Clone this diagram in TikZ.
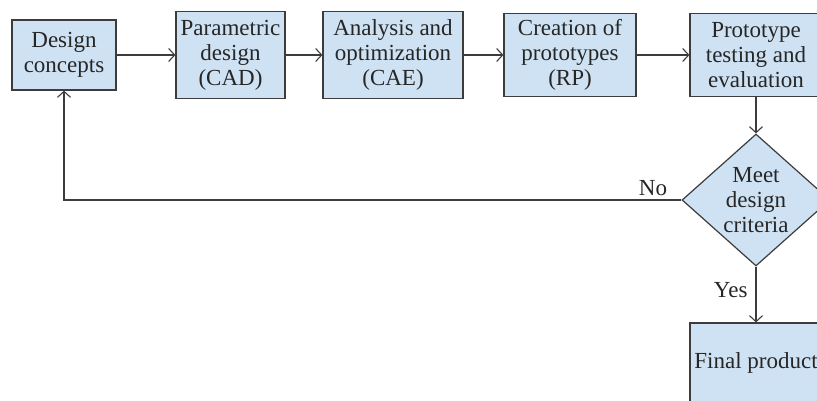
\documentclass[tikz,border=0pt]{standalone}
\usepackage{fontspec}
\setmainfont{Liberation Serif}
\usepackage{tikz}
\usetikzlibrary{quotes,arrows.meta,shapes.geometric}
\usepackage{xcolor}
\definecolor{boxfill}{RGB}{207,226,243}
\definecolor{linegray}{RGB}{60,60,60}

\begin{document}
\begin{tikzpicture}[x=1pt, y=-1pt,
        every node/.style={font=\fontsize{23}{25}\selectfont, align=center, text=black!85},
        block/.style={draw=linegray, fill=boxfill, line width=1.2pt, inner sep=0pt},
        decision/.style={block, diamond, minimum width=148pt, minimum height=132pt, aspect=1.12},
        flow/.style={draw=linegray, line width=1.1pt, -{Straight Barb[length=6pt,width=13pt]}}]
        \useasboundingbox (0,0) rectangle (817,401);
        \clip (0,0) rectangle (817,401);
        \node [block, minimum width=104pt, minimum height=70pt] (concepts) at (64,55) {Design\\concepts};
        \node [block, minimum width=109pt, minimum height=87pt] (cad) at (230.5,55) {Parametric\\design\\(CAD)};
        \node [block, minimum width=140pt, minimum height=87pt] (cae) at (393,55) {Analysis and\\optimization\\(CAE)};
        \node [block, minimum width=132pt, minimum height=83pt] (rp) at (570,55) {Creation of\\prototypes\\(RP)};
        \node [block, minimum width=132pt, minimum height=83pt] (testing) at (756,55) {Prototype\\testing and\\evaluation};
        \node [decision] (criteria) at (756,200) {Meet\\design\\criteria};
        \node [block, minimum width=132pt, minimum height=80pt] (final) at (756,363) {Final product};
        \draw [flow] (concepts) -- (cad);
        \draw [flow] (cad) -- (cae);
        \draw [flow] (cae) -- (rp);
        \draw [flow] (rp) -- (testing);
        \draw [flow] (testing) -- (criteria);
        \draw [flow] (criteria) -- node [left, pos=0.42, inner sep=8pt] {Yes} (final);
        \draw [flow] (criteria.west) -| node [pos=0.023, above, inner sep=4pt] {No} (concepts.south);
    \end{tikzpicture}
\end{document}
